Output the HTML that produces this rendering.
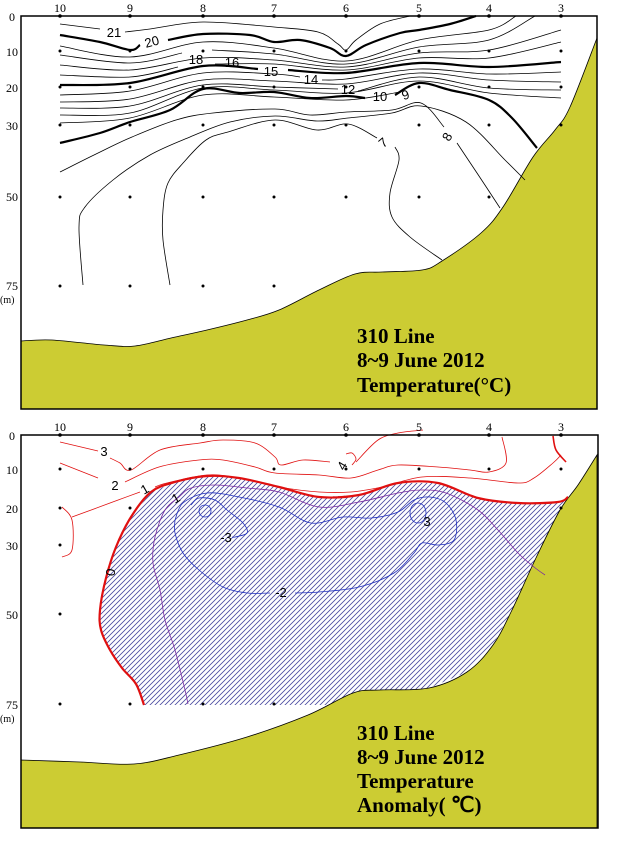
<!DOCTYPE html>
<html><head><meta charset="utf-8"><style>
html,body{margin:0;padding:0;background:#fff;}
svg{display:block;}
text{font-family:"Liberation Serif",serif;}
.ax{font-size:12px;}
.lb{font-family:"Liberation Sans",sans-serif;font-size:13px;}
.tt{font-size:21px;font-weight:bold;}
</style></head><body>
<svg id="s" width="618" height="850" viewBox="0 0 618 850" xmlns="http://www.w3.org/2000/svg">
<defs>
<pattern id="hatch" patternUnits="userSpaceOnUse" width="5" height="5">
<path d="M-1,6 L6,-1 M-1,1 L1,-1 M4,6 L6,4" stroke="#4a4aa0" stroke-width="0.8"/>
</pattern>
</defs>
<rect x="0" y="0" width="618" height="850" fill="#fff"/>
<g id="top"></g>
<g id="bot"></g>
<rect x="21" y="16" width="576" height="393" fill="none" stroke="#000" stroke-width="1.5"/>
<rect x="21" y="435" width="577" height="393" fill="none" stroke="#000" stroke-width="1.5"/>
<g class="ax" text-anchor="middle">
<text x="60" y="12">10</text><text x="130" y="12">9</text><text x="203" y="12">8</text><text x="274" y="12">7</text><text x="346" y="12">6</text><text x="419" y="12">5</text><text x="489" y="12">4</text><text x="561" y="12">3</text>
<text x="60" y="431">10</text><text x="130" y="431">9</text><text x="203" y="431">8</text><text x="274" y="431">7</text><text x="346" y="431">6</text><text x="419" y="431">5</text><text x="489" y="431">4</text><text x="561" y="431">3</text>
</g>
<g class="ax" text-anchor="end">
<text x="15" y="21">0</text><text x="18" y="56">10</text><text x="18" y="92">20</text><text x="18" y="130">30</text><text x="18" y="201">50</text><text x="18" y="290">75</text>
<text x="15" y="440">0</text><text x="18" y="474">10</text><text x="18" y="513">20</text><text x="18" y="550">30</text><text x="18" y="619">50</text><text x="18" y="709">75</text>
</g>
<text x="0" y="303" style="font-size:10px">(m)</text>
<text x="0" y="722" style="font-size:10px">(m)</text>
<g class="tt">
<text x="357" y="343">310 Line</text>
<text x="357" y="367">8~9 June 2012</text>
<text x="357" y="392">Temperature(°C)</text>
<text x="357" y="740">310 Line</text>
<text x="357" y="764">8~9 June 2012</text>
<text x="357" y="788">Temperature</text>
<text x="357" y="812">Anomaly( ℃)</text>
</g>
</svg>
<script>
(function(){
var NS="http://www.w3.org/2000/svg";
function cr(p,closed){
  if(p.length<2)return "";
  var d="M"+p[0][0]+","+p[0][1];
  var n=p.length;
  for(var i=0;i<n-1+(closed?1:0);i++){
    var p0=p[(i-1+n)%n],p1=p[i%n],p2=p[(i+1)%n],p3=p[(i+2)%n];
    if(!closed){ if(i==0)p0=p1; if(i+2>=n)p3=p2; }
    var c1=[p1[0]+(p2[0]-p0[0])/6,p1[1]+(p2[1]-p0[1])/6];
    var c2=[p2[0]-(p3[0]-p1[0])/6,p2[1]-(p3[1]-p1[1])/6];
    d+=" C"+c1[0].toFixed(1)+","+c1[1].toFixed(1)+" "+c2[0].toFixed(1)+","+c2[1].toFixed(1)+" "+p2[0]+","+p2[1];
  }
  if(closed)d+="Z";
  return d;
}
function el(g,tag,attrs){var e=document.createElementNS(NS,tag);for(var k in attrs)e.setAttribute(k,attrs[k]);g.appendChild(e);return e;}
function line(g,p,w,c,closed){el(g,"path",{d:cr(p,closed),fill:"none",stroke:c||"#000","stroke-width":w||0.8});}
function txt(g,x,y,s,c,rot){var t=el(g,"text",{x:x,y:y,"text-anchor":"middle","class":"lb",fill:c||"#000"});if(rot)t.setAttribute("transform","rotate("+rot+" "+x+" "+y+")");t.textContent=s;}
var T=document.getElementById("top"),B=document.getElementById("bot");
var xs=[60,130,203,274,346,419,489,561];
var gt=[[21,341],[52,340],[104,345],[135,346],[171,338],[207,330],[247,320],[279,310],[319,290],[355,274],[382,272],[422,270],[442,261],[481,233],[503,207],[533,157],[555,130],[570,107],[597,38]];
el(T,"path",{d:cr(gt)+" L597,409 L21,409 Z",fill:"#cccc33",stroke:"#000","stroke-width":0.8});
var thin=0.8,bold=2.2;
var L=[
 [thin,[[60,24],[100,29]]],[thin,[[125,32],[150,29],[203,22],[274,27],[318,32],[338,44],[346,50],[356,40],[380,24],[410,16]]],
 [bold,[[60,35],[100,42],[130,50],[140,45]]],[bold,[[168,40],[203,34],[250,35],[274,42],[300,40],[330,48],[346,56],[366,45],[400,33],[419,30],[450,24],[476,16]]],
 [thin,[[60,46],[130,57],[203,42],[274,48],[346,61],[419,40],[489,30],[516,16]]],
 [thin,[[60,55],[130,63],[182,53]]],[thin,[[212,50],[274,54],[346,64],[419,47],[489,40],[535,16]]],
 [thin,[[60,65],[130,70],[203,58],[274,60],[346,67],[419,53],[489,50],[561,30]]],
 [thin,[[60,75],[130,77],[178,67]]],[thin,[[215,64],[274,64],[346,70],[419,58],[489,58],[561,42]]],
 [bold,[[60,85],[130,83],[203,66],[258,69]]],[bold,[[288,70],[346,73],[419,63],[489,67],[561,62]]],
 [thin,[[60,95],[130,91],[203,73],[274,74],[300,77]]],[thin,[[322,80],[346,79],[419,69],[489,74],[561,72]]],
 [thin,[[60,102],[130,99],[203,80],[274,81],[346,84],[419,73],[489,80],[561,82]]],
 [thin,[[60,108],[130,106],[203,85],[274,87],[338,89]]],[thin,[[358,91],[419,77],[489,88],[561,90]]],
 [thin,[[60,115],[130,113],[203,88],[274,90],[346,93],[419,81],[489,93],[561,98]]],
 [thin,[[60,123],[130,118],[203,95],[274,97],[346,100],[400,92]]],
 [bold,[[60,143],[100,133],[130,122],[170,110],[203,89],[240,93],[274,92],[310,98],[346,96],[365,98]]],[bold,[[395,95],[419,83],[450,90],[489,100],[512,118],[537,148]]],
 [thin,[[60,172],[94,155],[132,137],[176,120],[213,113],[275,109],[310,115],[347,112],[392,110],[421,103],[444,127]]],[thin,[[457,143],[477,173],[500,208]]],
 [thin,[[83,285],[79,227],[85,207],[113,180],[150,155],[190,137],[230,122],[275,116],[317,121],[348,118],[392,113],[421,106],[466,122],[505,160],[525,180]]],
 [thin,[[170,285],[163,240],[163,210],[168,183],[184,162],[206,140],[228,132],[275,120],[317,130],[348,124],[377,138]]],[thin,[[395,147],[399,160],[390,193],[392,217],[410,237],[442,260]]]
];
L.forEach(function(a){line(T,a[1],a[0]);});
txt(T,114,37,"21");txt(T,153,46,"20",null,-15);txt(T,196,64,"18");txt(T,232,67,"16");txt(T,271,76,"15");txt(T,311,84,"14");txt(T,348,94,"12");txt(T,380,101,"10");txt(T,407,99,"9",null,-20);txt(T,386,146,"7",null,-40);txt(T,451,139,"8",null,-60);
xs.forEach(function(x,i){
  el(T,"circle",{cx:x,cy:16,r:1.8,fill:"#000"});
  [51,87,125].forEach(function(y){el(T,"circle",{cx:x,cy:y,r:1.5,fill:"#000"});});
  if(i<7)el(T,"circle",{cx:x,cy:197,r:1.5,fill:"#000"});
  if(i<4)el(T,"circle",{cx:x,cy:286,r:1.5,fill:"#000"});
});
var zero=[[568,497],[558,502],[518,503],[478,498],[438,483],[398,483],[359,495],[319,497],[279,487],[239,478],[207,476],[175,482],[151,492],[131,517],[116,547],[106,578],[100,610],[101,630],[110,650],[122,668],[136,684],[144,705]];
var hb=zero.concat([[280,705],[360,705],[429,688],[467,672],[493,645],[512,610],[535,560],[555,525],[568,497]]);
el(B,"path",{d:"M"+hb.map(function(p){return p.join(",");}).join(" L")+"Z",fill:"url(#hatch)"});
var gb=[[21,760],[80,762],[134,764],[179,755],[247,737],[308,715],[353,693],[380,690],[429,688],[467,672],[493,645],[512,610],[535,560],[560,510],[578,485],[597,455]];
el(B,"path",{d:cr(gb)+" L597,828 L21,828 Z",fill:"#cccc33",stroke:"#000","stroke-width":0.8});
var red="#e01010";
line(B,zero,2.2,red);
line(B,[[60,442],[98,451]],0.8,red);line(B,[[110,458],[120,463],[131,470],[160,450],[200,443],[223,440],[255,443],[275,457],[281,465],[303,460],[330,462]],0.8,red);
line(B,[[356,462],[378,440],[398,433],[423,430]],0.8,red);
line(B,[[60,463],[98,478]],0.8,red);line(B,[[125,482],[159,467],[199,460],[223,460],[255,467],[275,473],[319,475],[351,478],[378,470],[398,465],[438,467],[470,470],[489,472],[506,463],[502,437]],0.8,red);
line(B,[[72,517],[110,503],[140,492]],0.8,red);line(B,[[155,487],[167,483],[207,475],[239,478],[279,487],[319,492],[351,492],[382,487],[422,477],[470,478],[518,483],[534,478],[553,463],[561,455]],0.8,red);
line(B,[[62,507],[72,520],[72,550],[62,557]],0.8,red);
line(B,[[352,465],[356,459],[352,453],[346,454]],0.8,red);
line(B,[[553,436],[556,450],[566,462]],1.6,red);
var pur="#7a2aa0";
line(B,[[188,704],[185,690],[175,650],[165,620],[160,590],[153,563],[155,537],[165,510],[179,497],[191,488],[215,485],[247,488],[279,492],[319,507],[359,502],[398,493],[422,490],[446,493],[478,510],[498,530],[518,553],[534,567],[545,575]],0.8,pur);
var blu="#2030c0";
line(B,[[175,520],[183,503],[207,493],[239,497],[279,507],[311,523],[343,517],[371,518],[398,512],[414,500],[430,497],[446,503],[456,520],[454,540],[438,545],[422,543],[414,553],[394,573],[359,587],[319,592],[295,593]],0.8,blu);
line(B,[[270,593],[247,593],[223,587],[199,570],[183,553],[175,533],[175,520]],0.8,blu);
line(B,[[191,505],[199,498],[215,500],[227,510],[243,523],[247,533],[235,537],[232,537]],0.8,blu);
el(B,"circle",{cx:205,cy:511,r:6,fill:"none",stroke:blu,"stroke-width":0.8});
el(B,"ellipse",{cx:418,cy:513,rx:8,ry:10,fill:"none",stroke:blu,"stroke-width":0.8});
txt(B,104,456,"3",null,0);txt(B,115,490,"2");txt(B,147,493,"1",null,-30);txt(B,178,502,"1",null,-30);txt(B,115,573,"0",null,-80);
txt(B,226,542,"-3");txt(B,281,597,"-2");txt(B,427,526,"3");txt(B,346,468,"4",null,-60);
xs.forEach(function(x,i){
  el(B,"circle",{cx:x,cy:435,r:1.8,fill:"#000"});
  el(B,"circle",{cx:x,cy:469,r:1.5,fill:"#000"});
});
[[60,508],[130,508],[561,508],[60,545],[60,614],[60,704],[130,704],[203,704],[274,704]].forEach(function(p){el(B,"circle",{cx:p[0],cy:p[1],r:1.5,fill:"#000"});});
})();
</script>
</body></html>
